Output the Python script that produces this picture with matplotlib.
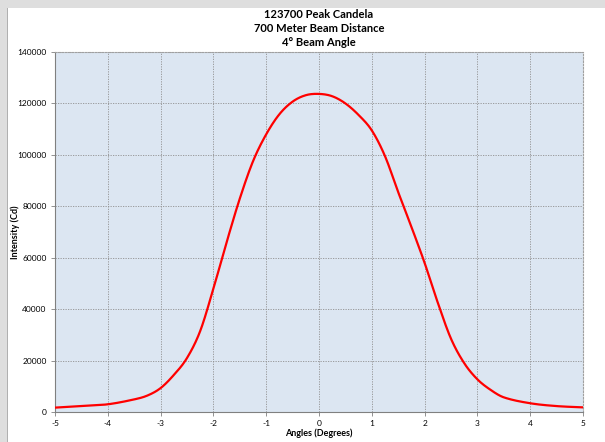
import numpy as np
import matplotlib.pyplot as plt
from matplotlib.patches import Rectangle

# beam profile
angles = [-5, -4.5, -4, -3.5, -3.25, -3, -2.75, -2.5, -2.25, -2, -1.75, -1.5,
          -1.25, -1, -0.75, -0.5, -0.25, 0, 0.25, 0.5, 0.75, 1, 1.25, 1.5,
          1.75, 2, 2.25, 2.5, 2.75, 3, 3.25, 3.5, 4, 4.5, 5]
intensity = [1700, 2300, 3000, 4900, 6400, 9300, 14400, 21000, 31500, 48000,
             66000, 83000, 97500, 108000, 115800, 120700, 123200, 123700,
             122800, 120000, 115500, 109500, 99500, 85500, 72000, 58000,
             42500, 28500, 19000, 12700, 8600, 5700, 3400, 2300, 1800]
xticks = [-5, -4, -3, -2, -1, 0, 1, 2, 3, 4, 5]
yticks = [0, 20000, 40000, 60000, 80000, 100000, 120000, 140000]

plt.rcParams['font.family'] = ['Lato', 'DejaVu Sans']

fig = plt.figure(figsize=(6.05, 4.42), dpi=100)
fig.patch.set_facecolor('#dedede')
fig.patches.append(Rectangle((8/605, 0), 1, 1 - 8/442, transform=fig.transFigure,
                             facecolor='white', edgecolor='none', zorder=-2))
fig.patches.append(Rectangle((7/605, 0), 1/605, 1 - 8/442, transform=fig.transFigure,
                             facecolor='#b0b0b0', edgecolor='none', zorder=-2))

ax = fig.add_axes([55/605, 30/442, 528/605, 360/442])
ax.set_facecolor('#dce6f2')

# smooth the points a bit like the spreadsheet's smoothed line
xs = np.array(angles, dtype=float)
ys = np.array(intensity, dtype=float)
xf = np.linspace(-5, 5, 801)

def catmull(x, y, xq):
    out = np.empty_like(xq)
    for k, q in enumerate(xq):
        i = np.searchsorted(x, q) - 1
        i = min(max(i, 0), len(x) - 2)
        x0, x1 = x[i], x[i + 1]
        y0, y1 = y[i], y[i + 1]
        m0 = (y[i + 1] - y[i - 1]) / (x[i + 1] - x[i - 1]) if i > 0 else (y1 - y0) / (x1 - x0)
        m1 = (y[i + 2] - y[i]) / (x[i + 2] - x[i]) if i + 2 < len(x) else (y1 - y0) / (x1 - x0)
        h = x1 - x0
        t = (q - x0) / h
        out[k] = ((2*t**3 - 3*t**2 + 1)*y0 + (t**3 - 2*t**2 + t)*h*m0
                  + (-2*t**3 + 3*t**2)*y1 + (t**3 - t**2)*h*m1)
    return out

ax.plot(xf, catmull(xs, ys, xf), color='#ff0000', lw=1.6, zorder=3)

ax.set_xlim(-5, 5)
ax.set_ylim(0, 140000)
ax.set_xticks(xticks)
ax.set_yticks(yticks)
ax.set_xticklabels([str(t) for t in xticks], fontsize=6)
ax.set_yticklabels([str(t) for t in yticks], fontsize=6)
ax.tick_params(length=3, width=0.6, color='#808080', pad=3)
ax.grid(True, color='#909090', ls=(0, (1.5, 1.5)), lw=0.6)

for side in ['top', 'right']:
    ax.spines[side].set_color('#a0a0a0')
    ax.spines[side].set_linestyle((0, (1.5, 1.5)))
    ax.spines[side].set_linewidth(0.8)
for side in ['left', 'bottom']:
    ax.spines[side].set_color('#808080')
    ax.spines[side].set_linewidth(0.8)

ax.set_xlabel('Angles (Degrees)', fontsize=6.5, fontweight='bold', labelpad=1)
ax.set_ylabel('Intensity (Cd)', fontsize=6.5, fontweight='bold')
ax.yaxis.set_label_coords(-35/528, 0.5)

fig.text(319/605, 1 - 15/442, '123700 Peak Candela', ha='center', va='center',
         fontsize=8, fontweight='bold')
fig.text(319/605, 1 - 29/442, '700 Meter Beam Distance', ha='center', va='center',
         fontsize=8, fontweight='bold')
fig.text(319/605, 1 - 43/442, '4° Beam Angle', ha='center', va='center',
         fontsize=8, fontweight='bold')

fig.savefig('out.png', dpi=100)
